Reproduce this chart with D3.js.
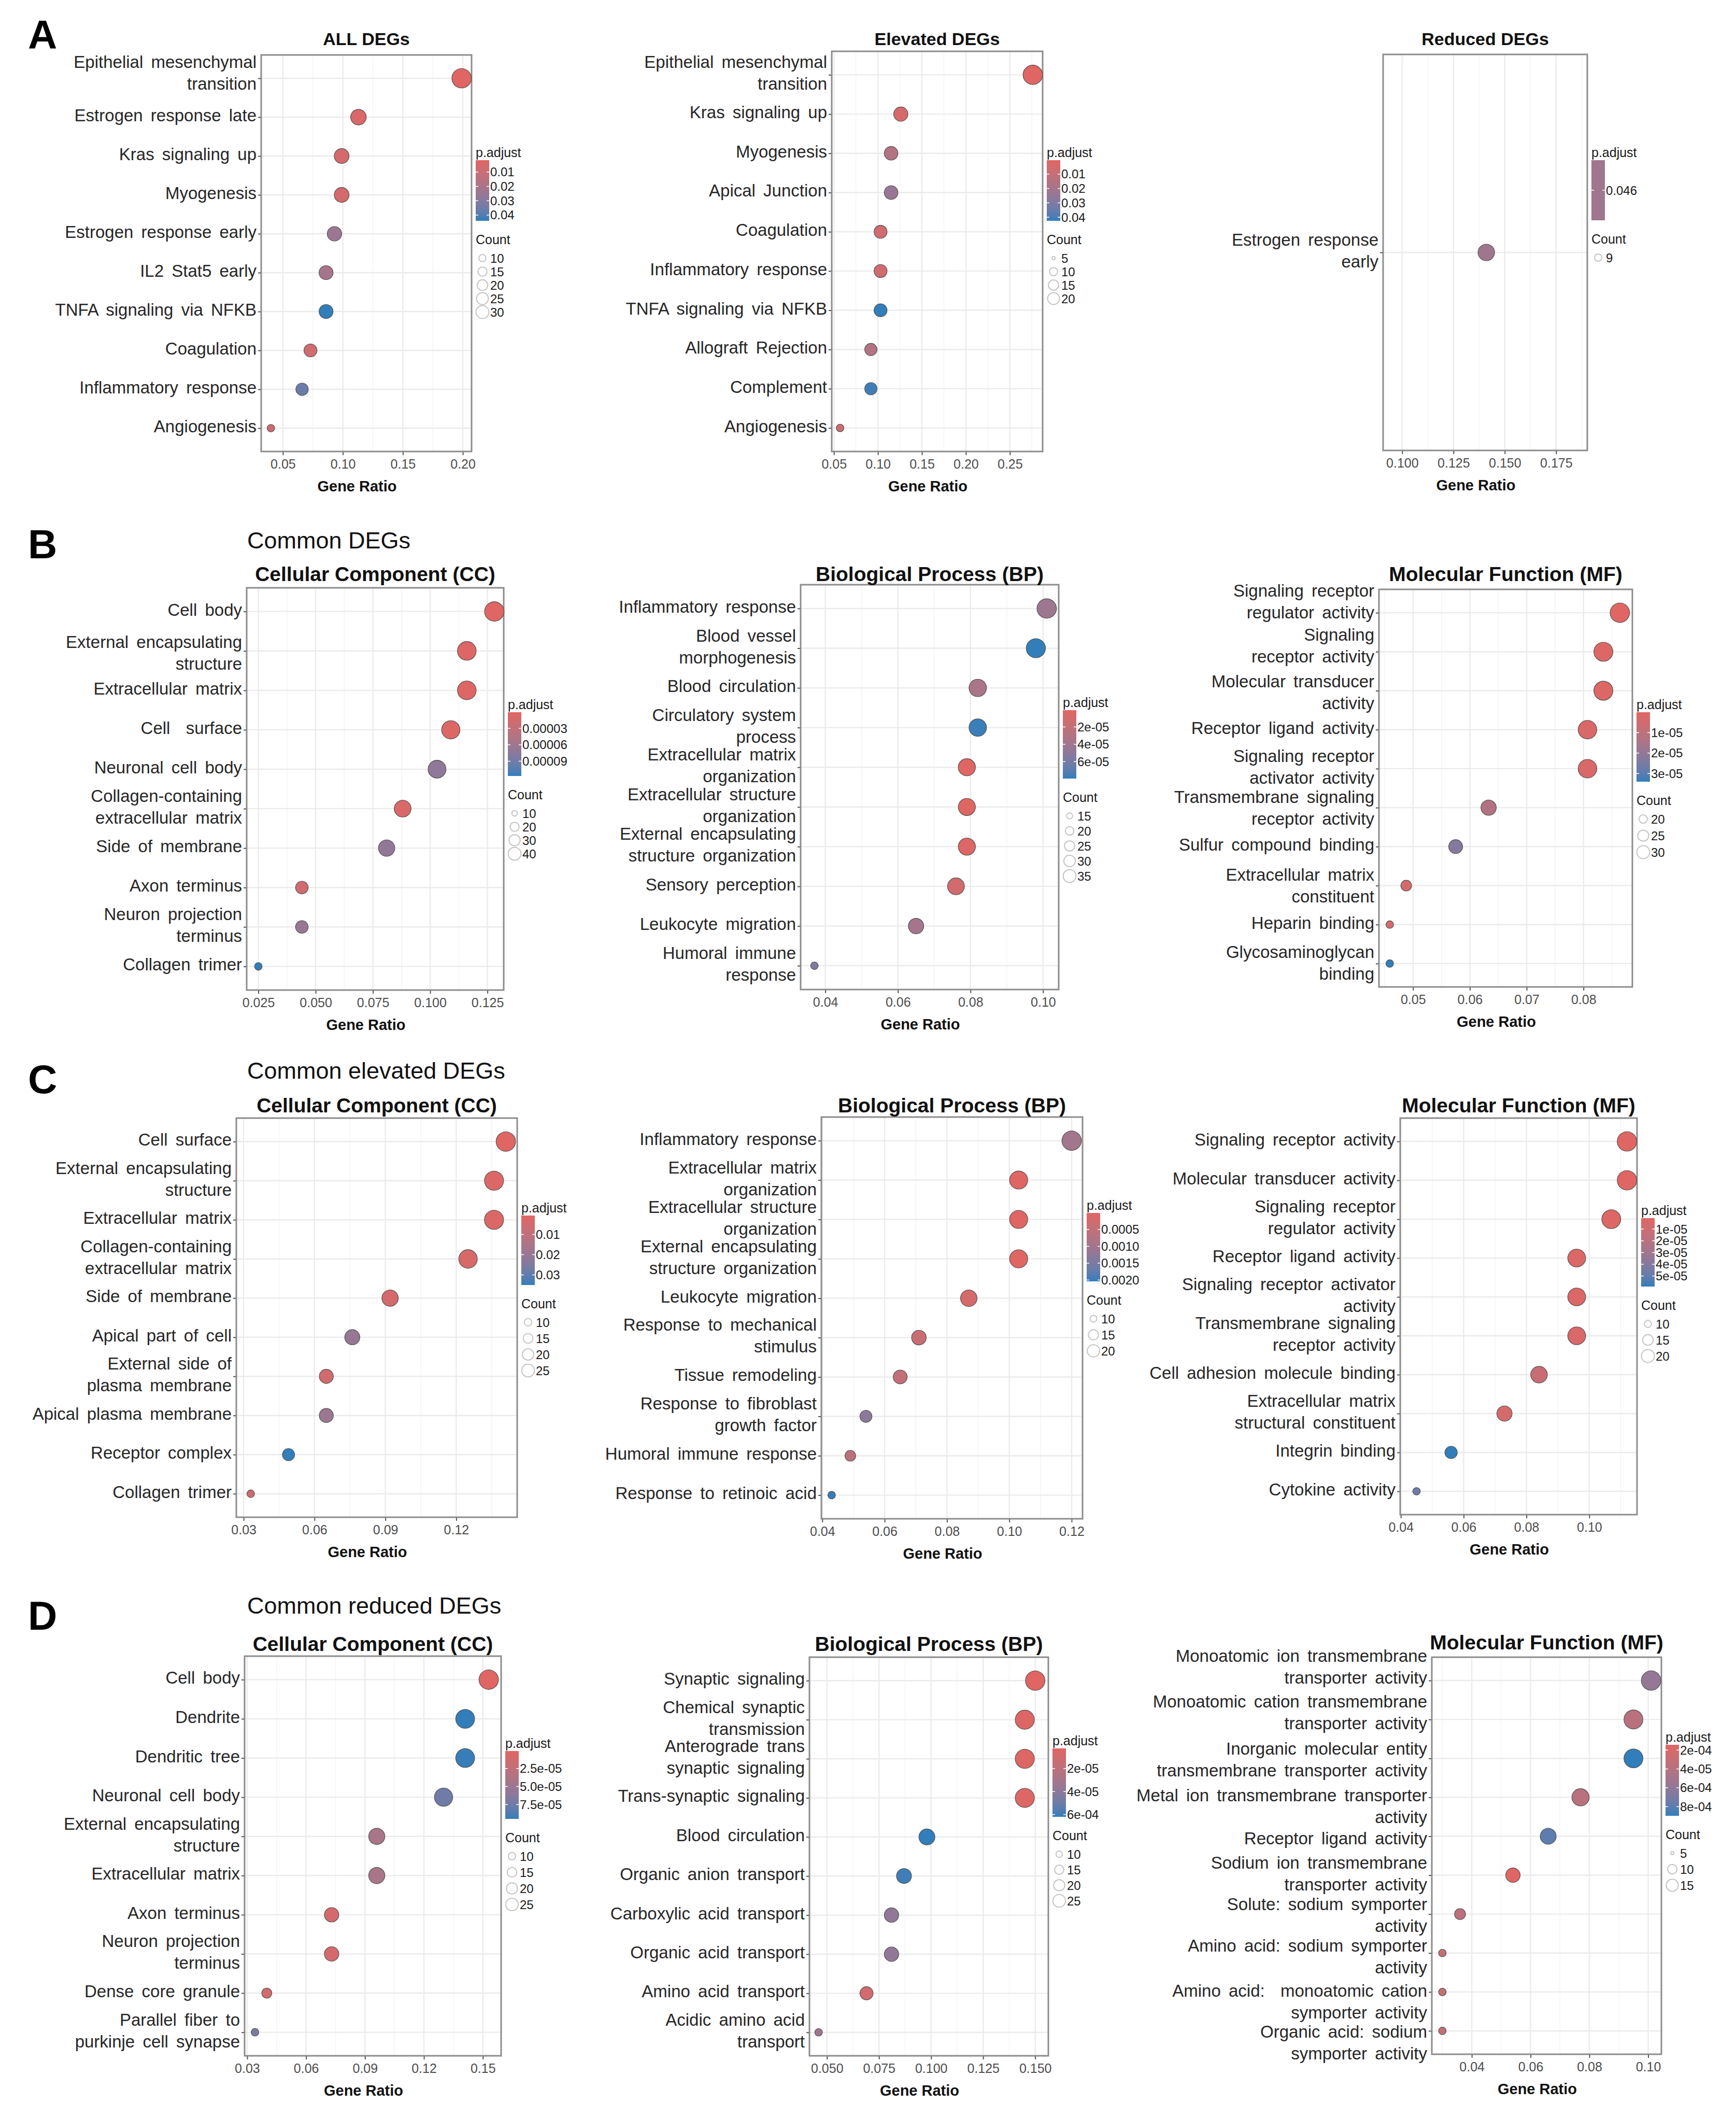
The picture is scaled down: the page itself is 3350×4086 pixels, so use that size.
<!DOCTYPE html>
<html>
<head>
<meta charset="utf-8">
<script src="https://cdn.jsdelivr.net/npm/d3@7"></script>
<style>
body { margin: 0; background: #fff; }
text { font-family: "Liberation Sans", Arial, sans-serif; }
</style>
</head>
<body>
<div id="fig"></div>
<script>
// ---------------- DATA ----------------
// A - hallmark sets
var allTerms = ["Epithelial mesenchymal\ntransition", "Estrogen response late", "Kras signaling up", "Myogenesis", "Estrogen response early", "IL2 Stat5 early", "TNFA signaling via NFKB", "Coagulation", "Inflammatory response", "Angiogenesis"];
var allRatio = [0.199, 0.113, 0.099, 0.099, 0.093, 0.086, 0.086, 0.073, 0.066, 0.040];
var allCount = [30, 17, 15, 15, 14, 13, 13, 11, 10, 6];
var allPadj = [0.0017, 0.004, 0.006, 0.006, 0.024, 0.021, 0.044, 0.008, 0.036, 0.009];

var elevTerms = ["Epithelial mesenchymal\ntransition", "Kras signaling up", "Myogenesis", "Apical Junction", "Coagulation", "Inflammatory response", "TNFA signaling via NFKB", "Allograft Rejection", "Complement", "Angiogenesis"];
var elevRatio = [0.276, 0.126, 0.115, 0.115, 0.103, 0.103, 0.103, 0.092, 0.092, 0.057];
var elevCount = [24, 11, 10, 10, 9, 9, 9, 8, 8, 5];
var elevPadj = [0.0003, 0.004, 0.016, 0.024, 0.006, 0.006, 0.0425, 0.016, 0.041, 0.007];

var redTerms = ["Estrogen response\nearly"];
var redRatio = [0.141];
var redCount = [9];
var redPadj = [0.046];

// B - common DEGs
var bccTerms = ["Cell body", "External encapsulating\nstructure", "Extracellular matrix", "Cell  surface", "Neuronal cell body", "Collagen-containing\nextracellular matrix", "Side of membrane", "Axon terminus", "Neuron projection\nterminus", "Collagen trimer"];
var bccRatio = [0.128, 0.116, 0.116, 0.109, 0.103, 0.088, 0.081, 0.044, 0.044, 0.025];
var bccCount = [41, 37, 37, 35, 33, 28, 26, 14, 14, 8];
var bccPadj = [5e-7, 3e-6, 3e-6, 5e-6, 7.2e-5, 8e-6, 7e-5, 1.5e-5, 6.5e-5, 1.17e-4];

var bbpTerms = ["Inflammatory response", "Blood vessel\nmorphogenesis", "Blood circulation", "Circulatory system\nprocess", "Extracellular matrix\norganization", "Extracellular structure\norganization", "External encapsulating\nstructure organization", "Sensory perception", "Leukocyte migration", "Humoral immune\nresponse"];
var bbpRatio = [0.101, 0.098, 0.082, 0.082, 0.079, 0.079, 0.079, 0.076, 0.065, 0.037];
var bbpCount = [36, 35, 29, 29, 28, 28, 28, 27, 23, 13];
var bbpPadj = [4.2e-5, 7.95e-5, 3.5e-5, 7.8e-5, 6.6e-7, 2e-6, 3e-6, 1e-5, 3.8e-5, 5.5e-5];

var bmfTerms = ["Signaling receptor\nregulator activity", "Signaling\nreceptor activity", "Molecular transducer\nactivity", "Receptor ligand activity", "Signaling receptor\nactivator activity", "Transmembrane signaling\nreceptor activity", "Sulfur compound binding", "Extracellular matrix\nconstituent", "Heparin binding", "Glycosaminoglycan\nbinding"];
var bmfRatio = [0.0864, 0.0835, 0.0835, 0.0807, 0.0807, 0.0633, 0.0575, 0.0488, 0.0459, 0.0459];
var bmfCount = [30, 29, 29, 28, 28, 22, 20, 17, 16, 16];
var bmfPadj = [3e-8, 1e-6, 1e-6, 2e-6, 2e-6, 1.3e-5, 2.3e-5, 3e-6, 4e-6, 3.4e-5];

// C - common elevated DEGs
var cccTerms = ["Cell surface", "External encapsulating\nstructure", "Extracellular matrix", "Collagen-containing\nextracellular matrix", "Side of membrane", "Apical part of cell", "External side of\nplasma membrane", "Apical plasma membrane", "Receptor complex", "Collagen trimer"];
var cccRatio = [0.141, 0.136, 0.136, 0.125, 0.092, 0.076, 0.065, 0.065, 0.049, 0.033];
var cccCount = [26, 25, 25, 23, 17, 14, 12, 12, 9, 6];
var cccPadj = [0.00064, 0.002, 0.002, 0.003, 0.004, 0.02, 0.005, 0.019, 0.035, 0.006];

var cbpTerms = ["Inflammatory response", "Extracellular matrix\norganization", "Extracellular structure\norganization", "External encapsulating\nstructure organization", "Leukocyte migration", "Response to mechanical\nstimulus", "Tissue remodeling", "Response to fibroblast\ngrowth factor", "Humoral immune response", "Response to retinoic acid"];
var cbpRatio = [0.120, 0.103, 0.103, 0.103, 0.087, 0.071, 0.065, 0.054, 0.049, 0.043];
var cbpCount = [22, 19, 19, 19, 16, 13, 12, 10, 9, 8];
var cbpPadj = [0.001, 1e-5, 2e-5, 2e-5, 0.0002, 0.0004, 0.0005, 0.0013, 0.0006, 0.00204];

var cmfTerms = ["Signaling receptor activity", "Molecular transducer activity", "Signaling receptor\nregulator activity", "Receptor ligand activity", "Signaling receptor activator\nactivity", "Transmembrane signaling\nreceptor activity", "Cell adhesion molecule binding", "Extracellular matrix\nstructural constituent", "Integrin binding", "Cytokine activity"];
var cmfRatio = [0.112, 0.112, 0.107, 0.096, 0.096, 0.096, 0.084, 0.073, 0.056, 0.045];
var cmfCount = [20, 20, 19, 17, 17, 17, 15, 13, 10, 8];
var cmfPadj = [7e-7, 1e-6, 2e-6, 3e-6, 3e-6, 4e-6, 1.2e-5, 6e-6, 5.9e-5, 4.7e-5];

// D - common reduced DEGs
var dccTerms = ["Cell body", "Dendrite", "Dendritic tree", "Neuronal cell body", "External encapsulating\nstructure", "Extracellular matrix", "Axon terminus", "Neuron projection\nterminus", "Dense core granule", "Parallel fiber to\npurkinje cell synapse"];
var dccRatio = [0.153, 0.141, 0.141, 0.130, 0.096, 0.096, 0.073, 0.073, 0.040, 0.034];
var dccCount = [27, 25, 25, 23, 17, 17, 13, 13, 7, 6];
var dccPadj = [7e-7, 9.5e-5, 9.4e-5, 7.5e-5, 4.2e-5, 4.2e-5, 1e-5, 1e-5, 1.2e-5, 7e-5];

var dbpTerms = ["Synaptic signaling", "Chemical synaptic\ntransmission", "Anterograde trans\nsynaptic signaling", "Trans-synaptic signaling", "Blood circulation", "Organic anion transport", "Carboxylic acid transport", "Organic acid transport", "Amino acid transport", "Acidic amino acid\ntransport"];
var dbpRatio = [0.150, 0.145, 0.145, 0.145, 0.098, 0.087, 0.081, 0.081, 0.069, 0.046];
var dbpCount = [26, 25, 25, 25, 17, 15, 14, 14, 12, 8];
var dbpPadj = [2.4e-6, 4e-6, 4e-6, 4e-6, 6.2e-5, 6e-5, 3.8e-5, 3.8e-5, 1e-5, 3.3e-5];

var dmfTerms = ["Monoatomic ion transmembrane\ntransporter activity", "Monoatomic cation transmembrane\ntransporter activity", "Inorganic molecular entity\ntransmembrane transporter activity", "Metal ion transmembrane transporter\nactivity", "Receptor ligand activity", "Sodium ion transmembrane\ntransporter activity", "Solute: sodium symporter\nactivity", "Amino acid: sodium symporter\nactivity", "Amino acid:  monoatomic cation\nsymporter activity", "Organic acid: sodium\nsymporter activity"];
var dmfRatio = [0.101, 0.095, 0.095, 0.077, 0.066, 0.054, 0.036, 0.030, 0.030, 0.030];
var dmfCount = [17, 16, 16, 13, 11, 9, 6, 5, 5, 5];
var dmfPadj = [5.8e-4, 3.8e-4, 8.97e-4, 3.8e-4, 8e-4, 1.44e-4, 3.5e-4, 3e-4, 3e-4, 3e-4];

// axis ticks and legend breaks
var allTicks = [0.05, 0.10, 0.15, 0.20];
var elevTicks = [0.05, 0.10, 0.15, 0.20, 0.25];
var redTicks = [0.100, 0.125, 0.150, 0.175];
var bccTicks = [0.025, 0.050, 0.075, 0.100, 0.125];
var bbpTicks = [0.04, 0.06, 0.08, 0.10];
var bmfTicks = [0.05, 0.06, 0.07, 0.08];
var cccTicks = [0.03, 0.06, 0.09, 0.12];
var cbpTicks = [0.04, 0.06, 0.08, 0.10, 0.12];
var cmfTicks = [0.04, 0.06, 0.08, 0.10];
var dccTicks = [0.03, 0.06, 0.09, 0.12, 0.15];
var dbpTicks = [0.050, 0.075, 0.100, 0.125, 0.150];
var dmfTicks = [0.04, 0.06, 0.08, 0.10];

var allPBreaks = [0.01, 0.02, 0.03, 0.04], allPLabels = ["0.01", "0.02", "0.03", "0.04"];
var elevPBreaks = [0.01, 0.02, 0.03, 0.04], elevPLabels = ["0.01", "0.02", "0.03", "0.04"];
var redPBreaks = [0.046], redPLabels = ["0.046"];
var bccPBreaks = [3e-5, 6e-5, 9e-5], bccPLabels = ["0.00003", "0.00006", "0.00009"];
var bbpPBreaks = [2e-5, 4e-5, 6e-5], bbpPLabels = ["2e-05", "4e-05", "6e-05"];
var bmfPBreaks = [1e-5, 2e-5, 3e-5], bmfPLabels = ["1e-05", "2e-05", "3e-05"];
var cccPBreaks = [0.01, 0.02, 0.03], cccPLabels = ["0.01", "0.02", "0.03"];
var cbpPBreaks = [0.0005, 0.001, 0.0015, 0.002], cbpPLabels = ["0.0005", "0.0010", "0.0015", "0.0020"];
var cmfPBreaks = [1e-5, 2e-5, 3e-5, 4e-5, 5e-5], cmfPLabels = ["1e-05", "2e-05", "3e-05", "4e-05", "5e-05"];
var dccPBreaks = [2.5e-5, 5e-5, 7.5e-5], dccPLabels = ["2.5e-05", "5.0e-05", "7.5e-05"];
var dbpPBreaks = [2e-5, 4e-5, 6e-5], dbpPLabels = ["2e-05", "4e-05", "6e-04"];
var dmfPBreaks = [2e-4, 4e-4, 6e-4, 8e-4], dmfPLabels = ["2e-04", "4e-05", "6e-04", "8e-04"];

var allCBreaks = [10, 15, 20, 25, 30];
var elevCBreaks = [5, 10, 15, 20];
var redCBreaks = [9];
var bccCBreaks = [10, 20, 30, 40];
var bbpCBreaks = [15, 20, 25, 30, 35];
var bmfCBreaks = [20, 25, 30];
var cccCBreaks = [10, 15, 20, 25];
var cbpCBreaks = [10, 15, 20];
var cmfCBreaks = [10, 15, 20];
var dccCBreaks = [10, 15, 20, 25];
var dbpCBreaks = [10, 15, 20, 25];
var dmfCBreaks = [5, 10, 15];

// ---------------- LAYOUT ----------------
var FONT = "'Liberation Sans', Arial, sans-serif";
var RED = "#e06663", BLUE = "#327eba";
var rMin = 7.3, rMax = 18.8;

var panels = [
  {id: "a1", title: "ALL DEGs", terms: allTerms, ratio: allRatio, count: allCount, padj: allPadj, ticks: allTicks, pBreaks: allPBreaks, pLabels: allPLabels, cBreaks: allCBreaks,
   box: [504, 106, 910, 871], xDom: [0.0319, 0.2073], fmt: ".2f", titleY: 87, titleSize: 34, legY: 294, barH: 117, cStep: 26,
   shift: [-7]},
  {id: "a2", title: "Elevated DEGs", terms: elevTerms, ratio: elevRatio, count: elevCount, padj: elevPadj, ticks: elevTicks, pBreaks: elevPBreaks, pLabels: elevPLabels, cBreaks: elevCBreaks,
   box: [1605, 99, 2012, 871], xDom: [0.0475, 0.2872], fmt: ".2f", titleY: 87, titleSize: 34, legY: 294, barH: 117, cStep: 26},
  {id: "a3", title: "Reduced DEGs", terms: redTerms, ratio: redRatio, count: redCount, padj: redPadj, ticks: redTicks, pBreaks: redPBreaks, pLabels: redPLabels, cBreaks: redCBreaks,
   box: [2669, 105, 3063, 869], xDom: [0.0907, 0.1902], fmt: ".3f", titleY: 87, titleSize: 34, legY: 294, barH: 116, cStep: 26},
  {id: "b1", title: "Cellular Component (CC)", terms: bccTerms, ratio: bccRatio, count: bccCount, padj: bccPadj, ticks: bccTicks, pBreaks: bccPBreaks, pLabels: bccPLabels, cBreaks: bccCBreaks,
   box: [476, 1134, 972, 1910], xDom: [0.0199, 0.1321], fmt: ".3f", titleY: 1121, titleSize: 39, legY: 1359, barH: 123, cStep: 26,
   shift: [0, 7]},
  {id: "b2", title: "Biological Process (BP)", terms: bbpTerms, ratio: bbpRatio, count: bbpCount, padj: bbpPadj, ticks: bbpTicks, pBreaks: bbpPBreaks, pLabels: bbpPLabels, cBreaks: bbpCBreaks,
   box: [1545, 1128, 2043, 1909], xDom: [0.0332, 0.1043], fmt: ".2f", titleY: 1121, titleSize: 39, legY: 1355, barH: 132, cStep: 29},
  {id: "b3", title: "Molecular Function (MF)", terms: bmfTerms, ratio: bmfRatio, count: bmfCount, padj: bmfPadj, ticks: bmfTicks, pBreaks: bmfPBreaks, pLabels: bmfPLabels, cBreaks: bmfCBreaks,
   box: [2661, 1137, 3150, 1904], xDom: [0.044, 0.0886], fmt: ".2f", titleY: 1121, titleSize: 39, legY: 1359, barH: 134, cStep: 32,
   shift: [-18, -8, 6, 0, 0, 4, 0, 4, 0, 2]},
  {id: "c1", title: "Cellular Component (CC)", terms: cccTerms, ratio: cccRatio, count: cccCount, padj: cccPadj, ticks: cccTicks, pBreaks: cccPBreaks, pLabels: cccPLabels, cBreaks: cccCBreaks,
   box: [456, 2157, 998, 2927], xDom: [0.0269, 0.1458], fmt: ".2f", titleY: 2146, titleSize: 39, legY: 2330, barH: 134, cStep: 31},
  {id: "c2", title: "Biological Process (BP)", terms: cbpTerms, ratio: cbpRatio, count: cbpCount, padj: cbpPadj, ticks: cbpTicks, pBreaks: cbpPBreaks, pLabels: cbpPLabels, cBreaks: cbpCBreaks,
   box: [1585, 2155, 2089, 2930], xDom: [0.0397, 0.1235], fmt: ".2f", titleY: 2146, titleSize: 39, legY: 2325, barH: 132, cStep: 31},
  {id: "c3", title: "Molecular Function (MF)", terms: cmfTerms, ratio: cmfRatio, count: cmfCount, padj: cmfPadj, ticks: cmfTicks, pBreaks: cmfPBreaks, pLabels: cmfPLabels, cBreaks: cmfCBreaks,
   box: [2702, 2157, 3159, 2922], xDom: [0.0398, 0.1152], fmt: ".2f", titleY: 2146, titleSize: 39, legY: 2335, barH: 132, cStep: 31},
  {id: "d1", title: "Cellular Component (CC)", terms: dccTerms, ratio: dccRatio, count: dccCount, padj: dccPadj, ticks: dccTicks, pBreaks: dccPBreaks, pLabels: dccPLabels, cBreaks: dccCBreaks,
   box: [472, 3195, 967, 3966], xDom: [0.0287, 0.1593], fmt: ".2f", titleY: 3185, titleSize: 39, legY: 3363, barH: 131, cStep: 31},
  {id: "d2", title: "Biological Process (BP)", terms: dbpTerms, ratio: dbpRatio, count: dbpCount, padj: dbpPadj, ticks: dbpTicks, pBreaks: dbpPBreaks, pLabels: dbpPLabels, cBreaks: dbpCBreaks,
   box: [1562, 3197, 2023, 3966], xDom: [0.0416, 0.1563], fmt: ".3f", titleY: 3185, titleSize: 39, legY: 3358, barH: 132, cStep: 30},
  {id: "d3", title: "Molecular Function (MF)", terms: dmfTerms, ratio: dmfRatio, count: dmfCount, padj: dmfPadj, ticks: dmfTicks, pBreaks: dmfPBreaks, pLabels: dmfPLabels, cBreaks: dmfCBreaks,
   box: [2763, 3197, 3206, 3963], xDom: [0.0264, 0.1045], fmt: ".2f", titleY: 3182, titleSize: 39, legY: 3351, barH: 137, cStep: 31,
   shift: [-23, -10, 6, 21, 8, 0, 5, 10, 22, 26]}
];

var svg = d3.select("#fig").append("svg")
    .attr("width", 3350)
    .attr("height", 4086)
    .style("background", "#fff");

var defs = svg.append("defs");

// panel letters and section headings
[["A", 94], ["B", 1077], ["C", 2109], ["D", 3144]].forEach(function(l) {
    svg.append("text").attr("x", 54).attr("y", l[1]).text(l[0])
        .attr("font-size", 78).attr("font-weight", "bold").attr("fill", "#000");
});
[["Common DEGs", 1058], ["Common elevated DEGs", 2081], ["Common reduced DEGs", 3113]].forEach(function(h) {
    svg.append("text").attr("x", 477).attr("y", h[1]).text(h[0])
        .attr("font-size", 45).attr("fill", "#111");
});

function drawPanel(p) {
    var L = p.box[0], T = p.box[1], R = p.box[2], B = p.box[3];
    var g = svg.append("g").attr("class", "panel-" + p.id);

    var x = d3.scaleLinear().domain(p.xDom).range([L, R]);
    var y = d3.scalePoint().domain(p.terms).range([T, B]).padding(0.6);

    var pExt = d3.extent(p.padj);
    var color = d3.scaleLinear().domain(pExt).range([RED, BLUE]).interpolate(d3.interpolateLab);

    var cExt = d3.extent(p.count);
    var size = d3.scaleSqrt().domain([0, cExt[1] - cExt[0]]).range([rMin, rMax]);
    function radius(c) { return cExt[0] === cExt[1] ? 16 : size(c - cExt[0]); }
    function legRadius(c) { return cExt[0] === cExt[1] ? 7 : 3 + (radius(c) - rMin) / (rMax - rMin) * 9.5; }

    // background
    g.append("rect").attr("x", L).attr("y", T).attr("width", R - L).attr("height", B - T).attr("fill", "#fff");

    // minor grid
    var step = p.ticks[1] - p.ticks[0];
    var minor = [p.ticks[0] - step / 2].concat(p.ticks.map(function(t) { return t + step / 2; }))
        .filter(function(v) { return v > p.xDom[0] && v < p.xDom[1]; });
    g.selectAll("line.minor").data(minor).join("line")
        .attr("x1", function(d) { return x(d); }).attr("x2", function(d) { return x(d); })
        .attr("y1", T).attr("y2", B)
        .attr("stroke", "#f3f3f3").attr("stroke-width", 1.4);
    // major grid
    g.selectAll("line.vmajor").data(p.ticks).join("line")
        .attr("x1", function(d) { return x(d); }).attr("x2", function(d) { return x(d); })
        .attr("y1", T).attr("y2", B)
        .attr("stroke", "#ebebeb").attr("stroke-width", 2.4);
    g.selectAll("line.hmajor").data(p.terms).join("line")
        .attr("x1", L).attr("x2", R)
        .attr("y1", function(d) { return y(d); }).attr("y2", function(d) { return y(d); })
        .attr("stroke", "#ebebeb").attr("stroke-width", 2.4);

    // border
    g.append("rect").attr("x", L).attr("y", T).attr("width", R - L).attr("height", B - T)
        .attr("fill", "none").attr("stroke", "#8c8c8c").attr("stroke-width", 3);

    // x axis
    var xa = g.append("g")
        .attr("transform", "translate(0," + (B + 1) + ")")
        .call(d3.axisBottom(x).tickValues(p.ticks).tickFormat(d3.format(p.fmt)).tickSize(6).tickPadding(8));
    xa.select(".domain").remove();
    xa.attr("font-family", FONT).attr("font-size", 25);
    xa.selectAll("line").attr("stroke", "#555").attr("stroke-width", 2);
    xa.selectAll("text").attr("fill", "#4d4d4d");

    g.append("text").attr("x", (L + R) / 2 - 18).attr("y", B + 77)
        .attr("text-anchor", "middle").attr("font-size", 29).attr("font-weight", "bold")
        .attr("fill", "#111").text("Gene Ratio");

    // y axis with wrapped labels
    var ya = g.append("g")
        .attr("transform", "translate(" + (L - 1) + ",0)")
        .call(d3.axisLeft(y).tickSize(5).tickFormat(""));
    ya.select(".domain").remove();
    ya.attr("font-family", FONT).attr("font-size", 33);
    ya.selectAll("line").attr("stroke", "#555").attr("stroke-width", 2);
    var LH = 42;
    var shift = p.shift || [];
    ya.selectAll(".tick").each(function(d, k) {
        var lines = d.split("\n");
        var dy = shift[k] || 0;
        var t = d3.select(this).select("text")
            .attr("dy", null).attr("fill", "#262626")
            .style("word-spacing", "6px").style("white-space", "pre");
        lines.forEach(function(line, i) {
            t.append("tspan").attr("x", -8)
                .attr("y", (i - (lines.length - 1) / 2) * LH - 4 + 11.5 + dy)
                .text(line);
        });
    });

    // dots
    g.selectAll("circle.dot").data(d3.range(p.terms.length)).join("circle")
        .attr("class", "dot")
        .attr("cx", function(i) { return x(p.ratio[i]); })
        .attr("cy", function(i) { return y(p.terms[i]); })
        .attr("r", function(i) { return radius(p.count[i]); })
        .attr("fill", function(i) { return color(p.padj[i]); })
        .attr("stroke", "#4a4a4a").attr("stroke-width", 1.1);

    // title
    g.append("text").attr("x", (L + R) / 2).attr("y", p.titleY)
        .attr("text-anchor", "middle").attr("font-size", p.titleSize).attr("font-weight", "bold")
        .attr("fill", "#111").text(p.title);

    // legend: p.adjust colour bar
    var lx = R + 8, ly = p.legY;
    g.append("text").attr("x", lx).attr("y", ly + 9).attr("font-size", 25).attr("fill", "#1a1a1a").text("p.adjust");
    var barTop = ly + 15, barW = 26;
    var grad = defs.append("linearGradient").attr("id", "grad-" + p.id)
        .attr("x1", 0).attr("y1", 0).attr("x2", 0).attr("y2", 1);
    d3.range(11).forEach(function(k) {
        grad.append("stop").attr("offset", k / 10)
            .attr("stop-color", color(pExt[0] + (pExt[1] - pExt[0]) * k / 10));
    });
    g.append("rect").attr("x", lx).attr("y", barTop).attr("width", barW).attr("height", p.barH)
        .attr("fill", "url(#grad-" + p.id + ")");
    var yb = d3.scaleLinear().domain(pExt).range([barTop, barTop + p.barH]);
    p.pBreaks.forEach(function(v, i) {
        var yy = yb(v);
        g.append("line").attr("x1", lx).attr("x2", lx + 5).attr("y1", yy).attr("y2", yy).attr("stroke", "#fff").attr("stroke-width", 1.5);
        g.append("line").attr("x1", lx + barW - 5).attr("x2", lx + barW).attr("y1", yy).attr("y2", yy).attr("stroke", "#fff").attr("stroke-width", 1.5);
        g.append("text").attr("x", lx + barW + 2).attr("y", yy + 8.5).attr("font-size", 24).attr("fill", "#1a1a1a").text(p.pLabels[i]);
    });

    // legend: Count sizes
    var cy0 = barTop + p.barH + 36;
    g.append("text").attr("x", lx).attr("y", cy0 + 9).attr("font-size", 25).attr("fill", "#1a1a1a").text("Count");
    p.cBreaks.forEach(function(c, i) {
        var yy = cy0 + 36 + i * p.cStep;
        g.append("circle").attr("cx", lx + 13).attr("cy", yy).attr("r", legRadius(c))
            .attr("fill", "#fff").attr("stroke", "#c4c4c4").attr("stroke-width", 2);
        g.append("text").attr("x", lx + 28).attr("y", yy + 8.5).attr("font-size", 24).attr("fill", "#1a1a1a").text(c);
    });
}

panels.forEach(drawPanel);
</script>
</body>
</html>
